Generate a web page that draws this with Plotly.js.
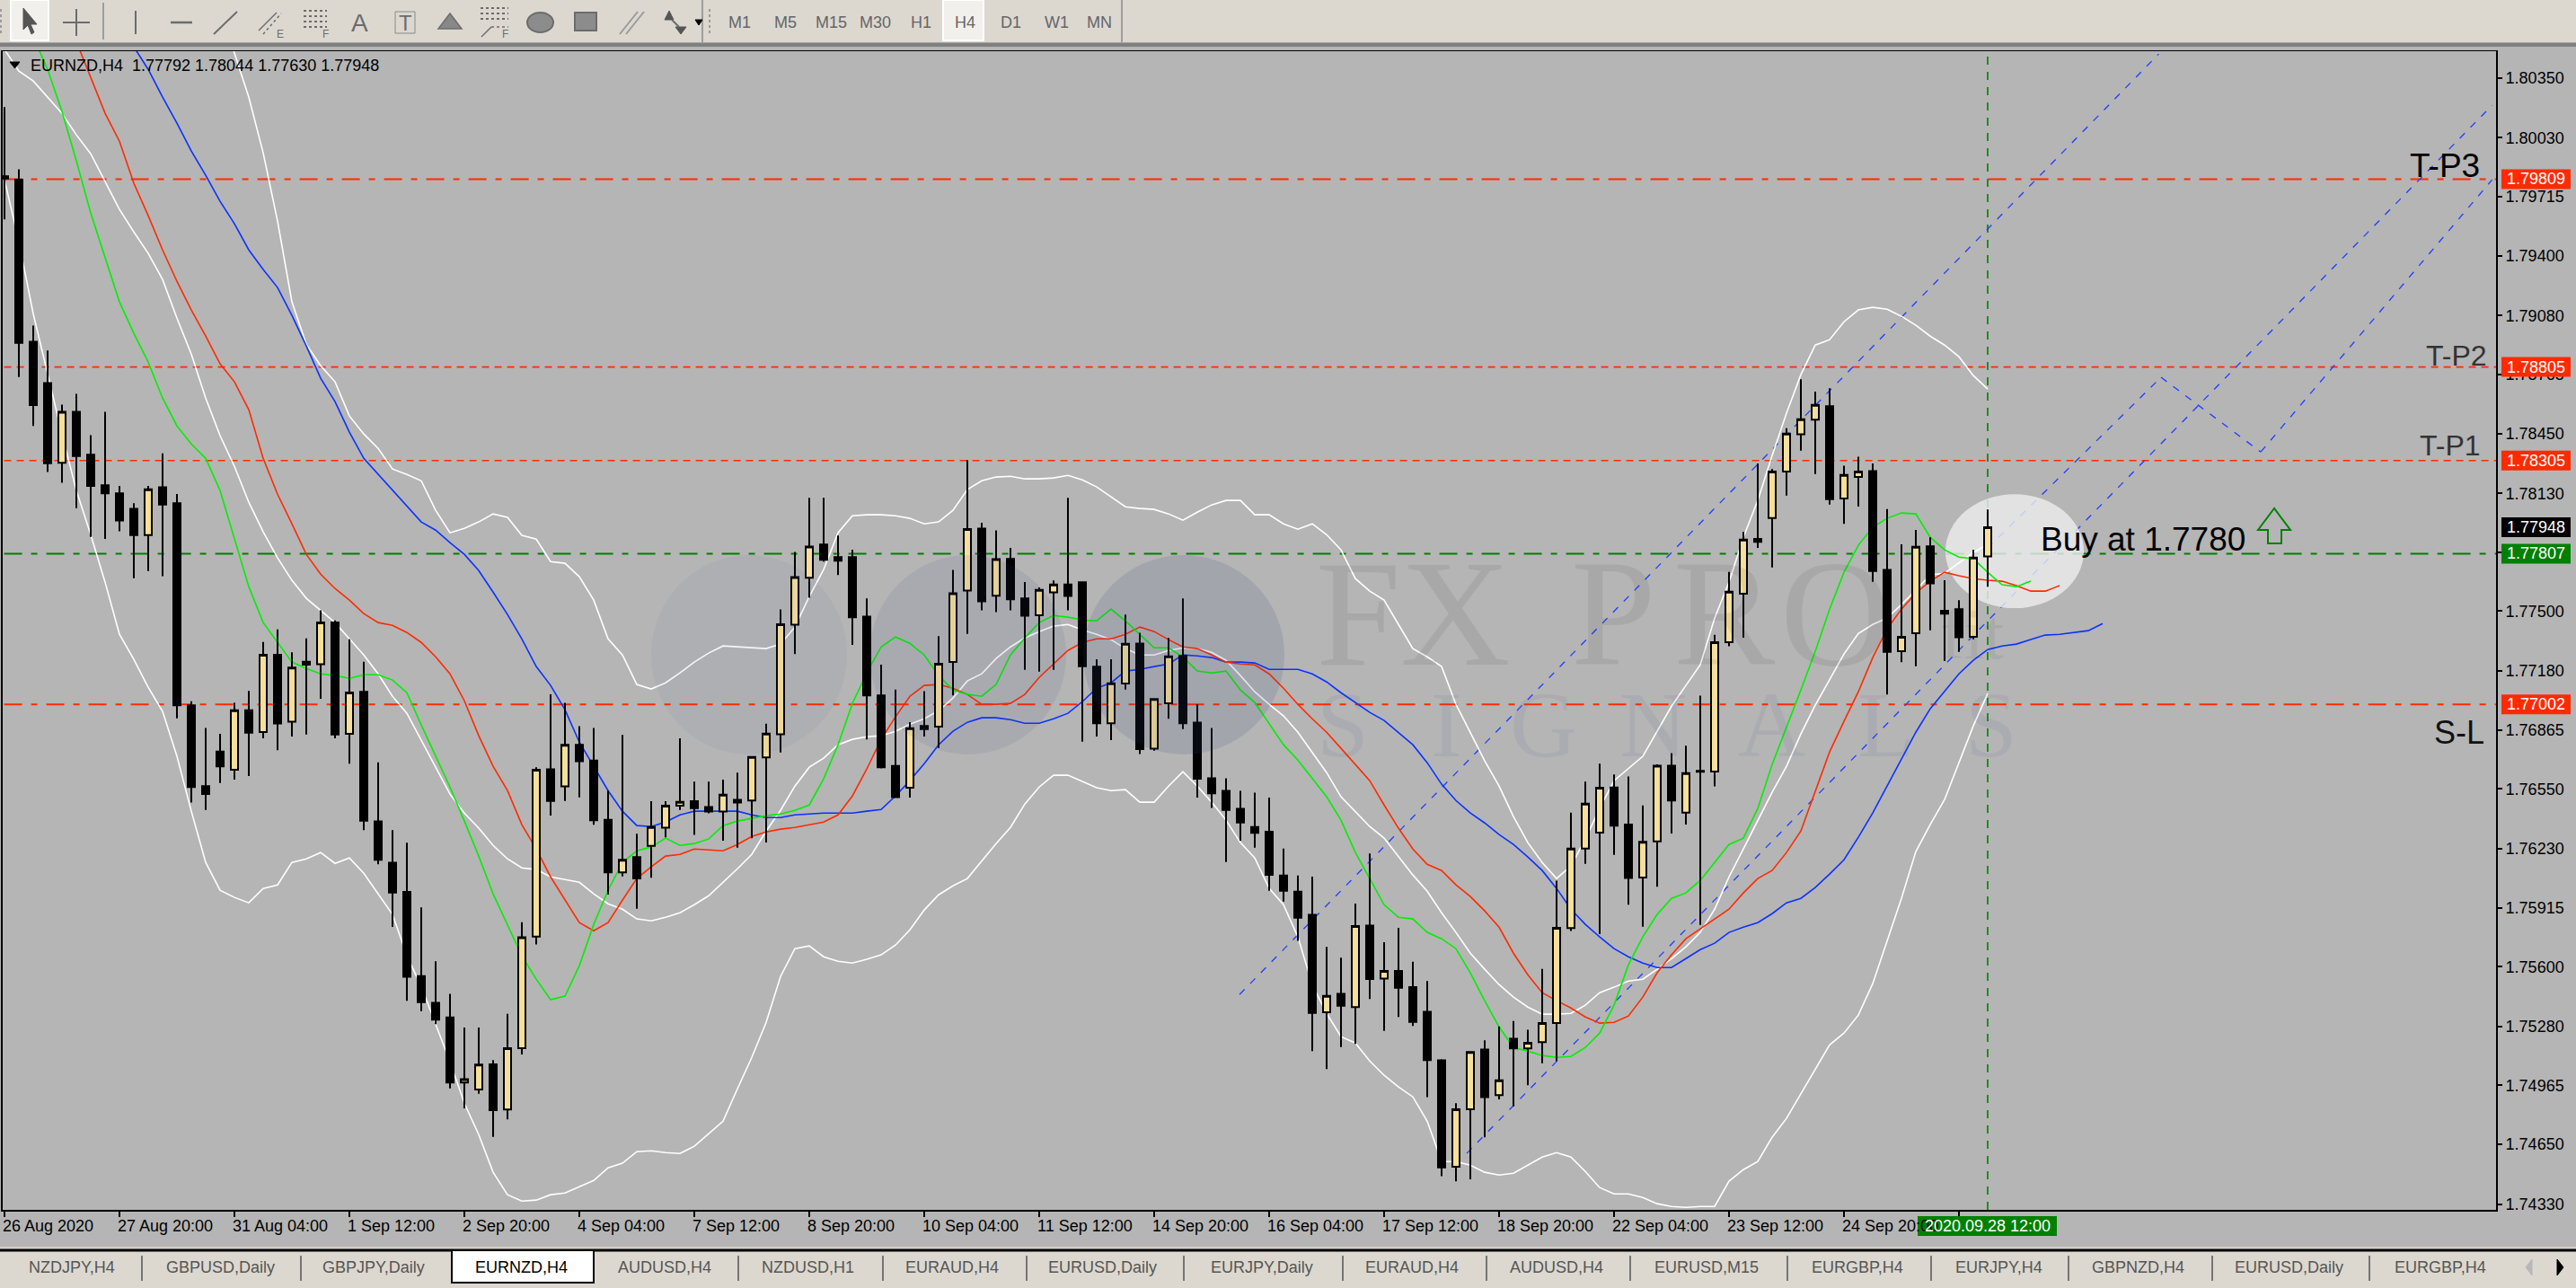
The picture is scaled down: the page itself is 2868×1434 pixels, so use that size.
<!DOCTYPE html>
<html><head><meta charset="utf-8">
<script src="https://cdn.plot.ly/plotly-3.0.1.min.js"></script>
<style>html,body{margin:0;padding:0;background:#b5b5b5;overflow:hidden}#chart{width:2868px;height:1434px}</style>
</head><body><div id="chart"></div>
<script>
// ---------- candle data (bar index 0 = 26 Aug 2020) ----------
const opens=[1.79825,1.79806,1.78940,1.78719,1.78293,1.78565,1.78336,1.78173,1.78130,1.78047,1.77907,1.78162,1.78077,1.76997,1.76565,1.76749,1.76652,1.76970,1.76854,1.77267,1.76909,1.77230,1.77216,1.77440,1.76845,1.77069,1.76376,1.76156,1.76000,1.75550,1.75406,1.75329,1.74980,1.74943,1.75078,1.74837,1.75164,1.75761,1.76655,1.76564,1.76786,1.76701,1.76385,1.76104,1.76185,1.76245,1.76343,1.76460,1.76484,1.76453,1.76429,1.76492,1.76488,1.76718,1.76842,1.77428,1.77678,1.77856,1.77789,1.77789,1.77471,1.77050,1.76673,1.76556,1.76887,1.76883,1.77228,1.77610,1.77941,1.77583,1.77779,1.77568,1.77478,1.77601,1.77643,1.77654,1.77203,1.76901,1.77113,1.77327,1.76765,1.77008,1.77261,1.76905,1.76607,1.76539,1.76444,1.76346,1.76321,1.76087,1.76001,1.75877,1.75356,1.75455,1.75384,1.75819,1.75536,1.75577,1.75491,1.75358,1.75099,1.74531,1.74838,1.75157,1.74913,1.75215,1.75163,1.75196,1.75298,1.75806,1.76231,1.76316,1.76558,1.76359,1.76076,1.76269,1.76674,1.76423,1.76646,1.76643,1.77334,1.77593,1.77886,1.77998,1.78246,1.78446,1.78523,1.78595,1.78102,1.78217,1.78249,1.77721,1.77286,1.77382,1.77846,1.77502,1.77510,1.77363,1.77792];
const highs=[1.80194,1.79862,1.79026,1.78893,1.78604,1.78662,1.78441,1.78565,1.78169,1.78077,1.78169,1.78344,1.78126,1.77019,1.76876,1.76845,1.77010,1.77074,1.77335,1.77402,1.77280,1.77355,1.77504,1.77451,1.77350,1.77230,1.76692,1.76330,1.76262,1.75917,1.75629,1.75454,1.75274,1.75274,1.75100,1.75348,1.75838,1.76665,1.77056,1.77010,1.76885,1.76876,1.76542,1.76839,1.76310,1.76484,1.76484,1.76820,1.76589,1.76589,1.76600,1.76637,1.76723,1.76898,1.77509,1.77816,1.78106,1.78106,1.77904,1.77829,1.77568,1.77214,1.77081,1.76907,1.77072,1.77366,1.77721,1.78308,1.77972,1.77932,1.77838,1.77656,1.77627,1.77664,1.78106,1.77656,1.77243,1.77243,1.77482,1.77384,1.77032,1.77357,1.77568,1.77002,1.76876,1.76607,1.76539,1.76530,1.76503,1.76231,1.76087,1.76081,1.75706,1.75648,1.75937,1.76205,1.75731,1.75808,1.75626,1.75523,1.75105,1.74870,1.75148,1.75206,1.75281,1.75309,1.75262,1.75588,1.76059,1.76423,1.76589,1.76685,1.76627,1.76616,1.76462,1.76681,1.76741,1.76781,1.77049,1.77374,1.77710,1.77923,1.78289,1.78259,1.78478,1.78739,1.78673,1.78691,1.78278,1.78326,1.78289,1.78046,1.77857,1.77934,1.77894,1.77665,1.77558,1.77827,1.78044];
const lows=[1.79594,1.78752,1.78490,1.78244,1.78186,1.78051,1.77897,1.77886,1.77927,1.77676,1.77714,1.77687,1.76927,1.76477,1.76437,1.76582,1.76600,1.76619,1.76821,1.76757,1.76830,1.76841,1.77032,1.76821,1.76685,1.76330,1.76147,1.75812,1.75417,1.75362,1.75292,1.74949,1.74842,1.74920,1.74690,1.74784,1.75131,1.75719,1.76408,1.76486,1.76505,1.76358,1.75985,1.76082,1.75909,1.76075,1.76291,1.76438,1.76304,1.76420,1.76273,1.76236,1.76286,1.76264,1.76745,1.77271,1.77572,1.77765,1.77693,1.77320,1.76815,1.76659,1.76503,1.76503,1.76830,1.76769,1.77050,1.77379,1.77504,1.77495,1.77504,1.77186,1.77177,1.77186,1.77504,1.76802,1.76830,1.76811,1.77081,1.76736,1.76754,1.76925,1.76870,1.76503,1.76448,1.76159,1.76273,1.76236,1.76006,1.75948,1.75738,1.75148,1.75052,1.75170,1.75187,1.75427,1.75256,1.75331,1.75283,1.74902,1.74480,1.74452,1.74463,1.74688,1.74891,1.74853,1.74966,1.75084,1.75095,1.75791,1.76149,1.75774,1.76198,1.75931,1.75813,1.76027,1.76312,1.76359,1.75823,1.76563,1.77313,1.77358,1.77838,1.77734,1.78118,1.78358,1.78233,1.78070,1.77966,1.78059,1.77657,1.77054,1.77227,1.77206,1.77398,1.77233,1.77283,1.77350,1.77630];
const closes=[1.79812,1.78934,1.78602,1.78291,1.78565,1.78329,1.78169,1.78130,1.77984,1.77907,1.78152,1.78070,1.76997,1.76560,1.76523,1.76670,1.76970,1.76850,1.77267,1.76900,1.77199,1.77214,1.77440,1.76841,1.77065,1.76380,1.76171,1.75996,1.75546,1.75410,1.75316,1.74980,1.74999,1.75076,1.74833,1.75164,1.75757,1.76652,1.76486,1.76786,1.76698,1.76382,1.76104,1.76171,1.76071,1.76346,1.76460,1.76481,1.76447,1.76429,1.76519,1.76477,1.76721,1.76846,1.77430,1.77682,1.77845,1.77774,1.77770,1.77467,1.77050,1.76666,1.76506,1.76874,1.76870,1.77219,1.77596,1.77939,1.77553,1.77778,1.77563,1.77476,1.77614,1.77642,1.77581,1.77206,1.76901,1.77114,1.77326,1.76763,1.77030,1.77259,1.76901,1.76604,1.76526,1.76438,1.76370,1.76315,1.76091,1.76006,1.75862,1.75352,1.75444,1.75391,1.75817,1.75534,1.75577,1.75487,1.75305,1.75101,1.74527,1.74838,1.75144,1.74902,1.74992,1.75163,1.75193,1.75298,1.75808,1.76231,1.76471,1.76556,1.76353,1.76074,1.76267,1.76674,1.76488,1.76634,1.76642,1.77334,1.77604,1.77883,1.77870,1.78246,1.78449,1.78526,1.78603,1.78099,1.78228,1.78246,1.77715,1.77283,1.77363,1.77844,1.77649,1.77486,1.77361,1.77787,1.77948];

// ---------- Bollinger bands ----------
const upperStart=15;
const bandUpper=[1.80718,1.80488,1.80247,1.79950,1.79585,1.79153,1.78927,1.78812,1.78726,1.78543,1.78447,1.78370,1.78260,1.78231,1.78197,1.78039,1.77919,1.77943,1.77977,1.78020,1.78001,1.77905,1.77885,1.77765,1.77756,1.77684,1.77559,1.77352,1.77266,1.77108,1.77084,1.77117,1.77170,1.77228,1.77276,1.77314,1.77309,1.77304,1.77300,1.77324,1.77415,1.77578,1.77722,1.77919,1.78010,1.78015,1.78015,1.78010,1.77996,1.77967,1.77977,1.78039,1.78150,1.78197,1.78217,1.78221,1.78207,1.78207,1.78212,1.78226,1.78202,1.78164,1.78111,1.78058,1.78049,1.78044,1.78020,1.77986,1.78029,1.78068,1.78092,1.78092,1.78015,1.78015,1.77967,1.77938,1.77967,1.77909,1.77828,1.77674,1.77607,1.77559,1.77429,1.77300,1.77256,1.77204,1.77002,1.76853,1.76700,1.76565,1.76402,1.76263,1.76157,1.76071,1.76138,1.76282,1.76445,1.76594,1.76661,1.76724,1.76858,1.76992,1.77103,1.77213,1.77463,1.77655,1.77895,1.78092,1.78332,1.78558,1.78764,1.78922,1.78951,1.79047,1.79110,1.79124,1.79114,1.79076,1.79028,1.78970,1.78922,1.78860,1.78759,1.78687];
const middleStart=0;
const bandMiddle=[1.80502,1.80387,1.80334,1.80247,1.80161,1.80046,1.79945,1.79796,1.79647,1.79527,1.79412,1.79273,1.79066,1.78874,1.78639,1.78438,1.78274,1.78082,1.77924,1.77785,1.77665,1.77569,1.77506,1.77439,1.77352,1.77266,1.77165,1.77045,1.76954,1.76810,1.76671,1.76522,1.76421,1.76340,1.76248,1.76176,1.76128,1.76119,1.76080,1.76066,1.76051,1.75989,1.75936,1.75907,1.75855,1.75845,1.75864,1.75888,1.75931,1.75979,1.76051,1.76123,1.76200,1.76325,1.76435,1.76565,1.76666,1.76714,1.76786,1.76815,1.76829,1.76834,1.76858,1.76896,1.76925,1.76968,1.77036,1.77127,1.77165,1.77247,1.77309,1.77357,1.77391,1.77420,1.77429,1.77400,1.77376,1.77348,1.77300,1.77266,1.77266,1.77290,1.77304,1.77300,1.77280,1.77237,1.77156,1.77069,1.77002,1.76940,1.76853,1.76743,1.76637,1.76508,1.76426,1.76349,1.76287,1.76186,1.76090,1.76003,1.75888,1.75783,1.75672,1.75586,1.75504,1.75437,1.75384,1.75346,1.75346,1.75350,1.75394,1.75461,1.75490,1.75523,1.75533,1.75586,1.75643,1.75706,1.75783,1.75907,1.76080,1.76229,1.76383,1.76532,1.76671,1.76844,1.76997,1.77132,1.77271,1.77381,1.77429,1.77463,1.77535,1.77612,1.77693,1.77703,1.77756,1.77813,1.77857];
const lowerStart=0;
const bandLower=[1.79806,1.79475,1.79090,1.78769,1.78447,1.78145,1.77909,1.77655,1.77376,1.77242,1.77093,1.76964,1.76724,1.76431,1.76157,1.76008,1.75970,1.75941,1.76018,1.76037,1.76157,1.76176,1.76210,1.76152,1.76181,1.76099,1.75989,1.75879,1.75658,1.75495,1.75293,1.75091,1.74870,1.74702,1.74501,1.74381,1.74347,1.74352,1.74381,1.74390,1.74424,1.74457,1.74525,1.74549,1.74611,1.74616,1.74606,1.74601,1.74640,1.74707,1.74774,1.74947,1.75115,1.75302,1.75547,1.75696,1.75711,1.75653,1.75629,1.75619,1.75639,1.75663,1.75715,1.75797,1.75903,1.75984,1.76032,1.76071,1.76167,1.76258,1.76344,1.76469,1.76560,1.76623,1.76623,1.76589,1.76556,1.76541,1.76546,1.76479,1.76479,1.76565,1.76642,1.76565,1.76479,1.76383,1.76263,1.76181,1.76018,1.75931,1.75759,1.75504,1.75350,1.75226,1.75192,1.75096,1.75019,1.74957,1.74904,1.74774,1.74558,1.74558,1.74539,1.74501,1.74486,1.74496,1.74539,1.74582,1.74606,1.74582,1.74505,1.74419,1.74385,1.74385,1.74366,1.74333,1.74318,1.74313,1.74318,1.74318,1.74453,1.74515,1.74558,1.74688,1.74789,1.74918,1.75053,1.75182,1.75245,1.75341,1.75509,1.75735,1.75965,1.76215,1.76359,1.76493,1.76695,1.76887,1.77060];

// ---------- Alligator lines ----------
const lipsStart=2;
const lipsGreen=[1.80569,1.80396,1.80171,1.79907,1.79628,1.79388,1.79153,1.78985,1.78831,1.78639,1.78490,1.78394,1.78317,1.78145,1.77890,1.77631,1.77439,1.77333,1.77228,1.77194,1.77165,1.77156,1.77141,1.77160,1.77160,1.77132,1.77064,1.76892,1.76724,1.76560,1.76378,1.76191,1.75989,1.75826,1.75658,1.75533,1.75423,1.75442,1.75605,1.75826,1.76008,1.76157,1.76219,1.76239,1.76287,1.76248,1.76258,1.76282,1.76354,1.76378,1.76392,1.76407,1.76416,1.76435,1.76464,1.76604,1.76786,1.77007,1.77170,1.77309,1.77362,1.77328,1.77266,1.77156,1.77079,1.77055,1.77045,1.77108,1.77266,1.77357,1.77439,1.77477,1.77468,1.77453,1.77448,1.77511,1.77448,1.77376,1.77304,1.77304,1.77256,1.77180,1.77170,1.77180,1.77079,1.77012,1.76896,1.76786,1.76704,1.76608,1.76508,1.76383,1.76210,1.76071,1.75931,1.75864,1.75855,1.75783,1.75749,1.75696,1.75567,1.75418,1.75278,1.75168,1.75149,1.75125,1.75115,1.75120,1.75168,1.75245,1.75394,1.75610,1.75759,1.75879,1.75965,1.75994,1.76061,1.76157,1.76253,1.76287,1.76445,1.76680,1.76877,1.77079,1.77285,1.77511,1.77708,1.77852,1.77948,1.77996,1.78025,1.78020,1.77895,1.77828,1.77789,1.77780,1.77708,1.77641,1.77631,1.77660];
const teethStart=5;
const teethRed=[1.80545,1.80353,1.80161,1.80012,1.79787,1.79614,1.79431,1.79263,1.79110,1.78970,1.78822,1.78726,1.78577,1.78317,1.78125,1.77967,1.77804,1.77698,1.77621,1.77559,1.77487,1.77439,1.77424,1.77386,1.77333,1.77256,1.77165,1.77021,1.76834,1.76671,1.76541,1.76359,1.76229,1.76080,1.75955,1.75835,1.75792,1.75835,1.75955,1.76071,1.76133,1.76191,1.76200,1.76229,1.76224,1.76219,1.76253,1.76296,1.76320,1.76335,1.76344,1.76359,1.76373,1.76411,1.76512,1.76656,1.76815,1.76935,1.77045,1.77103,1.77108,1.77088,1.77055,1.77002,1.77002,1.77007,1.77055,1.77146,1.77218,1.77290,1.77333,1.77352,1.77352,1.77376,1.77415,1.77391,1.77348,1.77309,1.77300,1.77266,1.77228,1.77218,1.77213,1.77165,1.77088,1.77002,1.76925,1.76853,1.76767,1.76680,1.76594,1.76464,1.76340,1.76229,1.76147,1.76114,1.76037,1.75975,1.75898,1.75811,1.75672,1.75557,1.75461,1.75418,1.75379,1.75331,1.75298,1.75302,1.75336,1.75437,1.75567,1.75663,1.75749,1.75802,1.75855,1.75907,1.75994,1.76071,1.76114,1.76210,1.76325,1.76541,1.76748,1.76911,1.77069,1.77252,1.77405,1.77511,1.77597,1.77660,1.77708,1.77689,1.77674,1.77665,1.77660,1.77636,1.77607,1.77607,1.77636];
const jawStart=9;
const jawBlue=[1.80516,1.80396,1.80247,1.80108,1.79959,1.79830,1.79691,1.79571,1.79431,1.79326,1.79230,1.79081,1.78918,1.78745,1.78620,1.78457,1.78317,1.78231,1.78145,1.78063,1.77977,1.77933,1.77866,1.77804,1.77717,1.77602,1.77482,1.77352,1.77204,1.77103,1.76973,1.76800,1.76671,1.76541,1.76431,1.76354,1.76349,1.76373,1.76411,1.76431,1.76431,1.76431,1.76431,1.76411,1.76397,1.76397,1.76411,1.76416,1.76421,1.76421,1.76421,1.76431,1.76440,1.76512,1.76594,1.76685,1.76786,1.76858,1.76906,1.76930,1.76930,1.76920,1.76901,1.76901,1.76925,1.76954,1.77016,1.77088,1.77117,1.77180,1.77189,1.77204,1.77218,1.77266,1.77261,1.77252,1.77228,1.77228,1.77223,1.77189,1.77189,1.77189,1.77165,1.77122,1.77064,1.77012,1.76959,1.76916,1.76853,1.76786,1.76690,1.76575,1.76488,1.76421,1.76368,1.76306,1.76253,1.76186,1.76114,1.76018,1.75907,1.75826,1.75759,1.75696,1.75653,1.75619,1.75595,1.75595,1.75643,1.75691,1.75725,1.75783,1.75811,1.75835,1.75883,1.75941,1.75965,1.76023,1.76095,1.76171,1.76292,1.76421,1.76565,1.76709,1.76853,1.76978,1.77069,1.77165,1.77237,1.77295,1.77314,1.77324,1.77348,1.77372,1.77376,1.77386,1.77396,1.77434];

// ---------- drawn objects ----------
const levelPrices=[1.79809,1.78805,1.78305,1.77807,1.77002];
const levelTagTexts=['1.79809','1.78805','1.78305','1.77807','1.77002'];
const channelUpperX=[85.94,149.9], channelUpperY=[1.75451,1.80478];
const channelLowerX=[101.75,173.1], channelLowerY=[1.74602,1.80204];
const forecastX=[138,150.06,157,173.1], forecastY=[1.77837,1.78750,1.78351,1.79806];
const crosshairBar=138;

// ---------- axis labels ----------
const priceTicks=[1.80350,1.80030,1.79715,1.79400,1.79080,1.78765,1.78450,1.78130,1.77815,1.77500,1.77180,1.76865,1.76550,1.76230,1.75915,1.75600,1.75280,1.74965,1.74650,1.74330];
const timeTickBars=[0,8,16,24,32,40,48,56,64,72,80,88,96,104,112,120,128,136];
const timeLabels=['26 Aug 2020','27 Aug 20:00','31 Aug 04:00','1 Sep 12:00','2 Sep 20:00','4 Sep 04:00','7 Sep 12:00','8 Sep 20:00','10 Sep 04:00','11 Sep 12:00','14 Sep 20:00','16 Sep 04:00','17 Sep 12:00','18 Sep 20:00','22 Sep 04:00','23 Sep 12:00','24 Sep 20:00'];
const toolbarLabels=['M1','M5','M15','M30','H1','H4','D1','W1','MN'];
const tabLabels=['NZDJPY,H4','GBPUSD,Daily','GBPJPY,Daily','EURNZD,H4','AUDUSD,H4','NZDUSD,H1','EURAUD,H4','EURUSD,Daily','EURJPY,Daily','EURAUD,H4','AUDUSD,H4','EURUSD,M15','EURGBP,H4','EURJPY,H4','GBPNZD,H4','EURUSD,Daily','EURGBP,H4'];

// ---------- layout geometry ----------
const W=2868,H=1434,L=3,R=2779,T=57,B=1347;
const xRange=[(L-5)/16,(R-5)/16];
const yRange=[1.74300,1.80493];
const px=X=>(X-L)/(R-L), py=Y=>1-(Y-T)/(B-T);
const idx=(arr,s)=>arr.map((_,k)=>k+s);
const SANS='"Liberation Sans", Arial, sans-serif';
const RED='#ff2a00',GREEN='#008000',TRENDBLUE='#1f3dff',TB='#dcd8d0';

const shapes=[],ann=[];
const rect=(x0,y0,x1,y1,fill,line,lw,layer)=>shapes.push({type:'rect',xref:'paper',yref:'paper',x0:px(x0),x1:px(x1),y0:py(y0),y1:py(y1),fillcolor:fill,line:{color:line||fill,width:line?(lw||1):0},layer:layer||'above'});
const seg=(x0,y0,x1,y1,c,w,dash)=>shapes.push({type:'line',xref:'paper',yref:'paper',x0:px(x0),x1:px(x1),y0:py(y0),y1:py(y1),line:{color:c,width:w||1,dash:dash||'solid'},layer:'above'});
const path=(pts,fill,line,lw)=>shapes.push({type:'path',xref:'paper',yref:'paper',path:'M'+pts.map(p=>px(p[0])+','+py(p[1])).join(' L')+(fill?' Z':''),fillcolor:fill||'rgba(0,0,0,0)',line:{color:line||fill,width:lw||1},layer:'above'});
const circ=(x0,y0,x1,y1,fill,line,lw)=>shapes.push({type:'circle',xref:'paper',yref:'paper',x0:px(x0),x1:px(x1),y0:py(y0),y1:py(y1),fillcolor:fill,line:{color:line||fill,width:line?(lw||1):0},layer:'above'});
const txt=(X,Y,t,size,color,anchor,extra)=>ann.push(Object.assign({xref:'paper',yref:'paper',x:px(X),y:py(Y),text:t,showarrow:false,xanchor:anchor||'center',yanchor:'middle',font:{family:SANS,size:size,color:color},borderpad:0},extra||{}));

// ---- chart objects below the candles ----
levelPrices.forEach((p,k)=>{
  const dashed=k===1||k===2;
  shapes.push({type:'line',xref:'x',yref:'y',x0:xRange[0]+0.1,x1:xRange[1],y0:p,y1:p,layer:'below',
    line:{color:k===3?GREEN:RED,width:dashed?1.6:2,dash:dashed?'8px,6px':'20px,10px,7px,10px'}});
});
shapes.push({type:'line',xref:'x',yref:'y',x0:crosshairBar,x1:crosshairBar,y0:yRange[0],y1:yRange[1],layer:'below',line:{color:GREEN,width:1.6,dash:'9px,8px'}});
[[channelUpperX,channelUpperY],[channelLowerX,channelLowerY]].forEach(([xs,ys])=>{
  shapes.push({type:'line',xref:'x',yref:'y',x0:xs[0],x1:xs[1],y0:ys[0],y1:ys[1],layer:'below',line:{color:TRENDBLUE,width:1.3,dash:'8px,9px'}});
});
for(let k=0;k<forecastX.length-1;k++){
  shapes.push({type:'line',xref:'x',yref:'y',x0:forecastX[k],x1:forecastX[k+1],y0:forecastY[k],y1:forecastY[k+1],layer:'below',line:{color:TRENDBLUE,width:1.3,dash:'8px,9px'}});
}
// highlight ellipse
shapes.push({type:'circle',xref:'x',yref:'y',x0:135.06,x1:144.69,y0:1.77516,y1:1.78125,layer:'below',fillcolor:'rgba(237,237,237,0.8)',line:{width:0}});

// ---- watermark (translucent, above candles) ----
circ(725,618,943,840,'rgba(60,70,130,0.05)');
circ(968,618,1187,840,'rgba(60,70,130,0.09)');
circ(1206,618,1430,840,'rgba(60,70,130,0.14)');
const wmBig=[['F',1512],['X',1621],['P',1797],['R',1920],['O',2043]];
wmBig.forEach(([c,X])=>txt(X,683,c,170,'rgba(0,0,0,0.07)','center',{font:{family:'"Liberation Serif",serif',size:170,color:'rgba(0,0,0,0.07)'}}));
txt(2195,706,'fit',80,'rgba(0,0,0,0.06)','center',{font:{family:'"Liberation Serif",serif',size:80,color:'rgba(0,0,0,0.06)'}});
const wmSmall=[['S',1495],['I',1610],['G',1718],['N',1840],['A',1973],['L',2100],['S',2217]];
wmSmall.forEach(([c,X])=>txt(X,806,c,104,'rgba(60,80,140,0.08)','center',{font:{family:'"Liberation Serif",serif',size:104,color:'rgba(60,80,140,0.08)'}}));

// ---- chart text ----
txt(33,73,'EURNZD,H4&nbsp;&nbsp;1.77792 1.78044 1.77630 1.77948',18,'#000','left');
path([[11,69],[22,69],[16.5,76]],'#000');
txt(2762,184,'T-P3',37,'#000','right');
txt(2770,396,'T-P2',32,'#333','right');
txt(2763,496,'T-P1',32,'#333','right');
txt(2767,815,'S-L',36,'#111','right');
txt(2386,600,'Buy at 1.7780',37,'#000','center');
path([[2532,566],[2514,590],[2525,590],[2525,605],[2540,605],[2540,590],[2550,590]],'rgba(0,0,0,0)',GREEN,2);

// ---- price tags ----
const tagColors=[RED,RED,RED,GREEN,RED];
levelPrices.forEach((p,k)=>{
  const Y=T+(yRange[1]-p)/(yRange[1]-yRange[0])*(B-T);
  rect(2785,Y-11,2862,Y+11,tagColors[k]);
  txt(2823.5,Y,levelTagTexts[k],18,'#fff');
});
{
  const Y=T+(yRange[1]-closes[closes.length-1])/(yRange[1]-yRange[0])*(B-T);
  rect(2785,Y-11,2862,Y+11,'#000');
  txt(2823.5,Y,closes[closes.length-1].toFixed(5),18,'#fff');
}

// ---- time axis labels (left aligned on their tick like the terminal draws them) ----
timeLabels.forEach((t,k)=>ann.push({xref:'x',yref:'paper',x:timeTickBars[k],y:py(1365),text:t,showarrow:false,xanchor:'left',yanchor:'middle',xshift:-4,font:{family:SANS,size:18,color:'#000'}}));
rect(2135,1354,2290,1376,GREEN);
txt(2212.5,1365,'2020.09.28 12:00',18,'#fff');

// ---- toolbar ----
rect(0,0,W,47.5,TB);
rect(0,47.5,W,52,'#808080');
rect(0,52,W,56,'#b5b5b5');
rect(12,0,54,45,'#f2f0ec','#ffffff',2);
rect(1050,0,1095,45,'#f2f0ec','#ffffff',2);
seg(1,10,1,38,'#9a9a9a',2,'dot');
seg(790,10,790,38,'#9a9a9a',2,'dot');
seg(782,0,782,47,'#8a8a8a',1.5);
seg(1249,0,1249,47,'#8a8a8a',1.5);
seg(115,3,115,44,'#8a8a8a',1.5);
const I='#6c6c6c';
path([[26,9],[26,33],[31,28],[35,38],[38,36],[34,27],[41,27]],'#555');            // pointer
seg(85,10,85,40,I,2);seg(70,25,100,25,I,2);                                       // crosshair
seg(151,12,151,38,I,2);                                                           // vertical
seg(190,25,214,25,I,2.5);                                                         // horizontal
seg(238,38,264,13,I,2);                                                           // trend
seg(288,34,308,14,I,1.5);seg(293,38,313,15,I,1.5,'dot');                          // channel E
txt(312,38,'E',12,I);
[12,18,24,30].forEach(y=>seg(338,y,364,y,I,2,'dot'));txt(362,38,'F',12,I);          // fibo
txt(401,25,'A',28,I);                                                             // text
rect(440,13,462,37,'rgba(0,0,0,0)','#8a8a8a',1);txt(451,25,'T',24,I);              // label
path([[501,15],[488,32],[514,32]],'#888',I,1.5);                                  // triangle
[9,15,21].forEach(y=>seg(535,y,566,y,I,2,'dot'));seg(536,41,547,30,I,1.5);seg(547,30,566,30,I,1.5,'dot');txt(562,38,'F',12,I);
circ(587,14,616,36,'#8c8c8c',I,2);                                                // ellipse
rect(640,14,664,34,'#8c8c8c',I,2);                                                // rectangle
seg(690,38,710,13,'#9a9a9a',2);seg(697,38,717,13,'#9a9a9a',2);                    // hatch
path([[745,12],[740,22],[750,22]],'#555');path([[758,30],[752,38],[764,38]].map(p=>[p[0],68-p[1]]),'#555');seg(748,22,756,30,I,2); // arrows
path([[774,22],[782,22],[778,28]],'#000');
const tbX=[823,874,925,974,1025,1074,1125,1176,1224];
toolbarLabels.forEach((t,k)=>txt(tbX[k],25,t,18,'#666'));

// ---- tab strip ----
rect(0,1388,W,1392,'#d4d0c8');
rect(0,1392,W,H,TB);
seg(0,1392,W,1392,'#000',3);
const tabX=[80,245,416,580,740,900,1060,1227,1405,1572,1733,1900,2068,2225,2380,2548,2717];
const tabSeps=[158,335,822,983,1143,1318,1495,1655,1815,1990,2150,2303,2463,2638];
tabSeps.forEach(x=>seg(x,1398,x,1426,'#555',1.5));
rect(503,1392,661,1428,'#fff','#000',2);
tabLabels.forEach((t,k)=>txt(tabX[k],1411,t,18,k===3?'#000':'#555'));
path([[2819,1402],[2812,1411],[2819,1420]],'#b8b8b8');
path([[2847,1402],[2854,1411],[2847,1420]],'#000');

// ---------- traces ----------
const lineTrace=(arr,start,color,w)=>({type:'scatter',mode:'lines',x:idx(arr,start),y:arr,line:{color:color,width:w||1.6,shape:'linear'},hoverinfo:'skip',showlegend:false,xaxis:'x',yaxis:'y'});
const traces=[
  lineTrace(bandUpper,upperStart,'#ffffff'),
  lineTrace(bandMiddle,middleStart,'#ffffff'),
  lineTrace(bandLower,lowerStart,'#ffffff'),
  lineTrace(jawBlue,jawStart,'#0a32ff'),
  lineTrace(teethRed,teethStart,'#ff2a00'),
  lineTrace(lipsGreen,lipsStart,'#00f000'),
  {type:'candlestick',x:idx(opens,0),open:opens,high:highs,low:lows,close:closes,xaxis:'x2',yaxis:'y2',
   increasing:{line:{color:'#000',width:2},fillcolor:'#f6df9a'},
   decreasing:{line:{color:'#000',width:2},fillcolor:'#000'},
   whiskerwidth:0,hoverinfo:'skip',showlegend:false}
];

const layout={
  width:W,height:H,
  margin:{l:L,r:W-R,t:T,b:H-B,pad:0},
  paper_bgcolor:'#b5b5b5',plot_bgcolor:'#b5b5b5',
  showlegend:false,hovermode:false,dragmode:false,
  boxgap:0.5,boxgroupgap:0,
  font:{family:SANS,color:'#000',size:18},
  xaxis:{type:'linear',range:xRange,showgrid:false,zeroline:false,showline:true,mirror:true,linecolor:'#000',linewidth:2,
    ticks:'outside',ticklen:6,tickwidth:1.5,tickcolor:'#000',tickmode:'array',tickvals:timeTickBars,showticklabels:false,fixedrange:true,rangeslider:{visible:false}},
  yaxis:{type:'linear',range:yRange,side:'right',showgrid:false,zeroline:false,showline:true,mirror:true,linecolor:'#000',linewidth:2,
    ticks:'outside',ticklen:5,tickwidth:2,tickcolor:'#000',tickmode:'array',tickvals:priceTicks,ticktext:priceTicks.map(v=>v.toFixed(5)),
    tickfont:{family:SANS,size:18,color:'#000'},fixedrange:true},
  xaxis2:{type:'linear',overlaying:'x',anchor:'y2',range:xRange,visible:false,fixedrange:true,rangeslider:{visible:false}},
  yaxis2:{type:'linear',overlaying:'y',anchor:'x2',range:yRange,visible:false,fixedrange:true,side:'right'},
  shapes:shapes,annotations:ann
};
Plotly.newPlot('chart',traces,layout,{displayModeBar:false,staticPlot:true});
</script></body></html>
